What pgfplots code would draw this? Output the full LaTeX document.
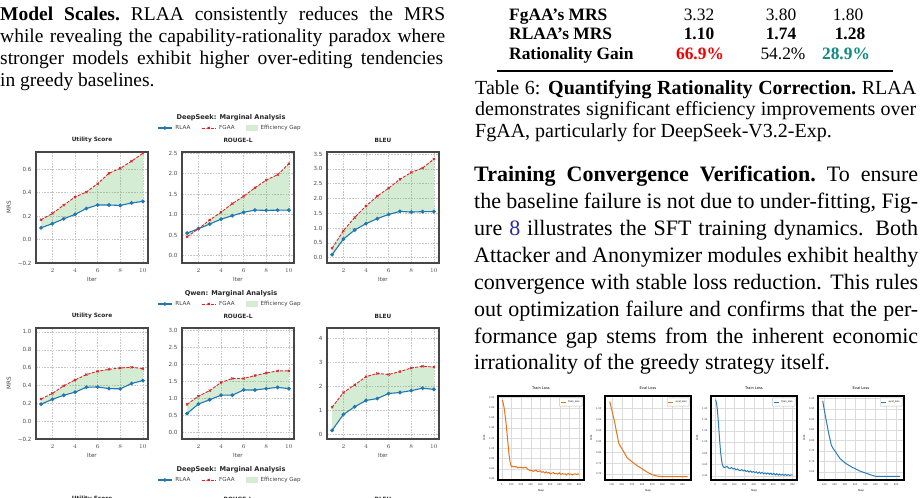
\documentclass[border=0pt]{standalone}
\usepackage{pgfplots}
\pgfplotsset{compat=1.18}
\usepackage{pgfplotstable}
\usepackage{fontspec}
\setmainfont{Liberation Serif}
\newfontfamily\djv{DejaVu Sans}

\definecolor{tabblue}{HTML}{1F77B4}
\definecolor{tabred}{HTML}{D62728}
\definecolor{tabgreen}{HTML}{2CA02C}
\definecolor{lossorange}{HTML}{E8731C}
\definecolor{lossblue}{HTML}{2B7BBA}
\definecolor{gainred}{HTML}{F20000}
\definecolor{gainteal}{HTML}{0E8A80}
\definecolor{linkblue}{HTML}{2A2AA0}

\newcommand{\tickfont}{\djv\fontsize{5.6bp}{6bp}\selectfont}
\newcommand{\tinyfont}{\djv\fontsize{2.4bp}{2.6bp}\selectfont}

% Marginal MRS per iteration: Utility (u), ROUGE-L (r), BLEU (b)
\pgfplotstableread{
iter uRL   uFG   rRL   rFG   bRL   bFG
1    0.100 0.168 0.550 0.460 0.100 0.320
2    0.135 0.222 0.656 0.656 0.630 0.910
3    0.176 0.293 0.770 0.870 0.935 1.360
4    0.214 0.362 0.890 1.060 1.150 1.745
5    0.264 0.404 0.975 1.270 1.320 2.080
6    0.294 0.475 1.057 1.450 1.460 2.350
7    0.294 0.564 1.112 1.656 1.565 2.650
8    0.290 0.606 1.105 1.844 1.540 2.880
9    0.311 0.667 1.110 1.975 1.555 3.030
10   0.325 0.735 1.110 2.246 1.555 3.330
}\dsdata

\pgfplotstableread{
iter uRL   uFG   rRL   rFG   bRL   bFG
1    0.190 0.248 0.548 0.817 0.180 1.140
2    0.245 0.311 0.827 1.058 0.840 1.750
3    0.290 0.396 0.952 1.221 1.160 2.070
4    0.325 0.461 1.087 1.460 1.420 2.410
5    0.380 0.522 1.087 1.577 1.500 2.540
6    0.383 0.559 1.240 1.577 1.710 2.500
7    0.365 0.581 1.240 1.663 1.750 2.620
8    0.362 0.596 1.280 1.740 1.830 2.770
9    0.422 0.604 1.317 1.800 1.930 2.840
10   0.455 0.589 1.280 1.800 1.880 2.810
}\qwdata

% SFT loss curves
\pgfplotstableread{
step loss
5 1.95
15 1.90
25 1.80
35 1.66
45 1.50
55 1.30
65 1.10
75 0.90
85 0.75
95 0.67
105 0.64
115 0.65
125 0.64
135 0.645
145 0.635
155 0.64
165 0.62
175 0.63
190 0.625
205 0.63
220 0.615
235 0.625
250 0.63
265 0.60
280 0.58
295 0.565
310 0.57
325 0.55
340 0.56
355 0.575
370 0.545
385 0.55
400 0.56
415 0.53
430 0.545
445 0.52
460 0.54
475 0.515
490 0.53
505 0.50
520 0.515
535 0.525
550 0.50
565 0.51
580 0.495
595 0.52
610 0.49
625 0.505
640 0.495
655 0.50
670 0.48
685 0.505
700 0.49
715 0.50
730 0.48
745 0.495
760 0.50
775 0.485
790 0.50
800 0.495
}\trainA

\pgfplotstableread{
step loss
80 1.033
125 0.945
170 0.839
210 0.809
250 0.776
300 0.756
350 0.739
400 0.724
450 0.709
500 0.697
550 0.691
600 0.688
650 0.688
700 0.688
750 0.688
800 0.688
850 0.688
}\evalA

\pgfplotstableread{
step loss
5 1.76
15 1.70
25 1.55
35 1.33
45 1.08
55 0.86
65 0.70
75 0.60
85 0.56
95 0.545
110 0.555
125 0.565
140 0.535
155 0.53
170 0.545
185 0.52
200 0.53
215 0.505
230 0.52
245 0.50
260 0.49
275 0.51
290 0.485
305 0.50
320 0.475
335 0.49
350 0.465
365 0.485
380 0.46
395 0.475
410 0.455
425 0.47
440 0.445
455 0.465
470 0.44
485 0.46
500 0.435
515 0.45
530 0.43
545 0.45
560 0.425
575 0.445
590 0.42
605 0.44
620 0.415
635 0.435
650 0.41
665 0.43
680 0.41
695 0.425
710 0.405
725 0.425
740 0.405
755 0.42
770 0.405
785 0.415
800 0.415
}\trainB

\pgfplotstableread{
step loss
83 0.989
103 0.933
123 0.881
145 0.826
167 0.778
187 0.760
207 0.747
250 0.715
307 0.691
373 0.672
440 0.656
507 0.644
573 0.633
607 0.629
700 0.629
840 0.629
}\evalB

\pgfplotsset{
  mrs/.style={
    scale only axis, width=112bp, height=111bp, anchor=north west,
    xmin=0.55, xmax=10.45, xtick={2,4,6,8,10},
    grid=major,
    major grid style={draw=black!22, dash pattern=on 1.6bp off 1.2bp, line width=0.45bp},
    axis background/.style={draw=black!72, line width=1.1bp},
    axis line style={draw=black!72, line width=1.1bp},
    major tick length=0pt, minor tick length=0pt,
    tick label style={font=\tickfont, text=black!70},
    xticklabel style={yshift=-2bp},
    yticklabel style={xshift=-1bp},
    title style={font=\djv\bfseries\fontsize{5.8bp}{6bp}\selectfont, text=black!85},
    xlabel={Iter},
    label style={font=\tickfont, text=black!75},
    xlabel style={yshift=2bp},
    legend image code/.code={\draw[mark repeat=2,mark phase=2,##1] plot coordinates {(0bp,0bp)(7bp,0bp)(14bp,0bp)};},
  },
  rl/.style={tabblue, line width=1.1bp, mark=*, mark size=1.3bp, mark options={solid}},
  fg/.style={tabred, line width=0.9bp, dash pattern=on 3bp off 1.4bp, mark=x, mark size=1.5bp, mark options={solid, line width=0.8bp}},
  gap/.style={fill=tabgreen, fill opacity=0.2, draw=none, forget plot,
    legend image code/.code={\fill[##1] (0bp,-2.6bp) rectangle (12bp,2.6bp);}},
  rowlegend/.style={legend style={at={(0.5,1)}, anchor=center, xshift=-8bp, yshift=24bp,
    draw=none, fill=none, inner sep=0pt, font=\tickfont, text=black!75,
    legend columns=3, /tikz/every even column/.append style={column sep=9bp},
    /tikz/every odd column/.append style={column sep=1bp}}},
  loss/.style={
    scale only axis, width=86bp, height=84bp, anchor=north west,
    grid=major, major grid style={draw=black!14, line width=0.35bp},
    axis background/.style={draw=black, line width=1.1bp},
    axis line style={draw=black, line width=1.1bp},
    major tick length=0pt, minor tick length=0pt,
    tick label style={font=\tinyfont, text=black!80, /pgf/number format/assume math mode=true},
    yticklabel style={/pgf/number format/fixed, /pgf/number format/fixed zerofill, /pgf/number format/precision=2},
    xticklabel style={/pgf/number format/set thousands separator={}},
    title style={font=\djv\fontsize{3.6bp}{4bp}\selectfont, inner sep=0.6bp},
    xlabel={Step}, ylabel={Loss},
    label style={font=\djv\fontsize{2.6bp}{3bp}\selectfont},
    xlabel style={yshift=2.5bp}, ylabel style={yshift=-2.5bp},
    legend style={at={(0.98,0.98)}, anchor=north east, font=\tinyfont, inner sep=0.5bp,
      draw=black!25, rounded corners=0.4bp, row sep=0pt},
    legend image code/.code={\draw[##1] (0bp,0bp) -- (5bp,0bp);},
  },
}

\begin{document}
\begin{tikzpicture}
\fill[white] (0bp,0bp) rectangle (923bp,-498bp);

% ---------- left column text ----------
\begin{scope}[every node/.style={anchor=base west, inner sep=0pt, font=\fontsize{19.5bp}{22bp}\selectfont}]
\node at (0bp,-20bp) {\makebox[445bp][s]{\textbf{Model Scales.}\ RLAA consistently reduces the MRS}};
\node at (0bp,-42bp) {\makebox[445bp][s]{while revealing the capability-rationality paradox where}};
\node at (0bp,-64bp) {\makebox[443bp][s]{stronger models exhibit higher over-editing tendencies}};
\node at (0bp,-86bp) {in greedy baselines.};
\end{scope}

% ---------- table fragment ----------
\begin{scope}[every node/.style={inner sep=0pt, font=\fontsize{17.4bp}{20bp}\selectfont}]
\node[anchor=base west] at (509bp,-20bp) {\textbf{FgAA’s MRS}};
\node[anchor=base west] at (509bp,-39.5bp) {\textbf{RLAA’s MRS}};
\node[anchor=base west] at (509bp,-59.5bp) {\textbf{Rationality Gain}};
\node[anchor=base] at (699bp,-20bp) {3.32};
\node[anchor=base] at (781bp,-20bp) {3.80};
\node[anchor=base] at (848bp,-20bp) {1.80};
\node[anchor=base] at (699bp,-39.5bp) {\textbf{1.10}};
\node[anchor=base] at (781bp,-39.5bp) {\textbf{1.74}};
\node[anchor=base] at (850bp,-39.5bp) {\textbf{1.28}};
\node[anchor=base] at (700bp,-59.5bp) {\textcolor{gainred}{\textbf{66.9\%}}};
\node[anchor=base] at (783bp,-59.5bp) {54.2\%};
\node[anchor=base] at (846bp,-59.5bp) {\textcolor{gainteal}{\textbf{28.9\%}}};
\end{scope}
\draw[line width=1.3bp] (497bp,-71bp) -- (893bp,-71bp);

\begin{scope}[every node/.style={anchor=base west, inner sep=0pt, font=\fontsize{20bp}{22bp}\selectfont}]
\node at (475bp,-94bp) {\makebox[441bp][s]{Table 6: \textbf{Quantifying Rationality Correction.}\ RLAA}};
\node at (475bp,-115.5bp) {\makebox[441bp][s]{demonstrates significant efficiency improvements over}};
\node at (475bp,-137bp) {FgAA, particularly for DeepSeek-V3.2-Exp.};
\end{scope}

\begin{scope}[every node/.style={anchor=base west, inner sep=0pt, font=\fontsize{22bp}{27bp}\selectfont}]
\node at (474bp,-181.5bp) {\makebox[444bp][s]{\textbf{Training Convergence Verification.}\ To ensure}};
\node at (474bp,-208.5bp) {\makebox[444bp][s]{the baseline failure is not due to under-fitting, Fig-}};
\node at (474bp,-235.5bp) {\makebox[444bp][s]{ure \textcolor{linkblue}{8} illustrates the SFT training dynamics. Both}};
\node at (474bp,-262.5bp) {\makebox[444bp][s]{Attacker and Anonymizer modules exhibit healthy}};
\node at (474bp,-289.5bp) {\makebox[444bp][s]{convergence with stable loss reduction. This rules}};
\node at (474bp,-316.5bp) {\makebox[444bp][s]{out optimization failure and confirms that the per-}};
\node at (474bp,-343.5bp) {\makebox[444bp][s]{formance gap stems from the inherent economic}};
\node at (474bp,-369.5bp) {irrationality of the greedy strategy itself.};
\end{scope}

% ---------- marginal analysis panels ----------
\begin{scope}[every node/.style={font=\djv\bfseries\fontsize{6.6bp}{7bp}\selectfont, text=black!85}]
\node at (231bp,-118bp) {DeepSeek: Marginal Analysis};
\node at (231bp,-294bp) {Qwen: Marginal Analysis};
\node at (231bp,-470bp) {DeepSeek: Marginal Analysis};
\end{scope}

% row 1: DeepSeek (gap area: RLAA forward, FGAA backward)
\begin{axis}[mrs, at={(36bp,-152bp)}, title={Utility Score}, ylabel={MRS},
  ymin=-0.2, ymax=0.745, ytick={-0.2,0,0.2,0.4,0.6}, yticklabels={−0.2,0.0,0.2,0.4,0.6}]
\addplot[gap] coordinates {(1,0.100)(2,0.135)(3,0.176)(4,0.214)(5,0.264)(6,0.294)(7,0.294)(8,0.290)(9,0.311)(10,0.325)
  (10,0.735)(9,0.667)(8,0.606)(7,0.564)(6,0.475)(5,0.404)(4,0.362)(3,0.293)(2,0.222)(1,0.168)};
\addplot[rl] table[x=iter,y=uRL]{\dsdata};
\addplot[fg] table[x=iter,y=uFG]{\dsdata};
\end{axis}
\begin{axis}[mrs, rowlegend, at={(182bp,-152bp)}, title={ROUGE-L},
  ymin=-0.18, ymax=2.53, ytick={0,0.5,1,1.5,2,2.5}, yticklabels={0.0,0.5,1.0,1.5,2.0,2.5}]
\addplot[gap] coordinates {(1,0.550)(2,0.656)(3,0.770)(4,0.890)(5,0.975)(6,1.057)(7,1.112)(8,1.105)(9,1.110)(10,1.110)
  (10,2.246)(9,1.975)(8,1.844)(7,1.656)(6,1.450)(5,1.270)(4,1.060)(3,0.870)(2,0.656)(1,0.460)};
\addplot[rl] table[x=iter,y=rRL]{\dsdata};
\addplot[fg] table[x=iter,y=rFG]{\dsdata};
\addlegendimage{gap}
\legend{RLAA,FGAA,Efficiency Gap}
\end{axis}
\begin{axis}[mrs, at={(327bp,-152bp)}, title={BLEU},
  ymin=-0.18, ymax=3.57, ytick={0,0.5,1,1.5,2,2.5,3,3.5}, yticklabels={0.0,0.5,1.0,1.5,2.0,2.5,3.0,3.5}]
\addplot[gap] coordinates {(1,0.100)(2,0.630)(3,0.935)(4,1.150)(5,1.320)(6,1.460)(7,1.565)(8,1.540)(9,1.555)(10,1.555)
  (10,3.330)(9,3.030)(8,2.880)(7,2.650)(6,2.350)(5,2.080)(4,1.745)(3,1.360)(2,0.910)(1,0.320)};
\addplot[rl] table[x=iter,y=bRL]{\dsdata};
\addplot[fg] table[x=iter,y=bFG]{\dsdata};
\end{axis}

% row 2: Qwen
\begin{axis}[mrs, at={(36bp,-328bp)}, title={Utility Score}, ylabel={MRS},
  ymin=-0.2, ymax=1.044, ytick={-0.2,0,0.2,0.4,0.6,0.8,1}, yticklabels={−0.2,0.0,0.2,0.4,0.6,0.8,1.0}]
\addplot[gap] coordinates {(1,0.190)(2,0.245)(3,0.290)(4,0.325)(5,0.380)(6,0.383)(7,0.365)(8,0.362)(9,0.422)(10,0.455)
  (10,0.589)(9,0.604)(8,0.596)(7,0.581)(6,0.559)(5,0.522)(4,0.461)(3,0.396)(2,0.311)(1,0.248)};
\addplot[rl] table[x=iter,y=uRL]{\qwdata};
\addplot[fg] table[x=iter,y=uFG]{\qwdata};
\end{axis}
\begin{axis}[mrs, rowlegend, at={(182bp,-328bp)}, title={ROUGE-L},
  ymin=-0.2, ymax=3.06, ytick={0,0.5,1,1.5,2,2.5,3}, yticklabels={0.0,0.5,1.0,1.5,2.0,2.5,3.0}]
\addplot[gap] coordinates {(1,0.548)(2,0.827)(3,0.952)(4,1.087)(5,1.087)(6,1.240)(7,1.240)(8,1.280)(9,1.317)(10,1.280)
  (10,1.800)(9,1.800)(8,1.740)(7,1.663)(6,1.577)(5,1.577)(4,1.460)(3,1.221)(2,1.058)(1,0.817)};
\addplot[rl] table[x=iter,y=rRL]{\qwdata};
\addplot[fg] table[x=iter,y=rFG]{\qwdata};
\addlegendimage{gap}
\legend{RLAA,FGAA,Efficiency Gap}
\end{axis}
\begin{axis}[mrs, at={(327bp,-328bp)}, title={BLEU},
  ymin=-0.18, ymax=4.43, ytick={0,1,2,3,4}, yticklabels={0,1,2,3,4}]
\addplot[gap] coordinates {(1,0.180)(2,0.840)(3,1.160)(4,1.420)(5,1.500)(6,1.710)(7,1.750)(8,1.830)(9,1.930)(10,1.880)
  (10,2.810)(9,2.840)(8,2.770)(7,2.620)(6,2.500)(5,2.540)(4,2.410)(3,2.070)(2,1.750)(1,1.140)};
\addplot[rl] table[x=iter,y=bRL]{\qwdata};
\addplot[fg] table[x=iter,y=bFG]{\qwdata};
\end{axis}

% row 3: DeepSeek, legend and panel titles
\begin{axis}[mrs, rowlegend, at={(182bp,-504bp)}, height=1bp, hide axis, title={},
  xlabel={}, ymin=0, ymax=1]
\addlegendimage{rl}\addlegendimage{fg}\addlegendimage{gap}
\legend{RLAA,FGAA,Efficiency Gap}
\end{axis}
\begin{scope}
\clip (0bp,0bp) rectangle (923bp,-498bp);
\begin{scope}[every node/.style={font=\djv\bfseries\fontsize{5.8bp}{6bp}\selectfont, text=black!85}]
\node at (92bp,-499bp) {Utility Score};
\node at (238bp,-499bp) {ROUGE-L};
\node at (383bp,-499bp) {BLEU};
\end{scope}
\end{scope}

% ---------- SFT loss curves ----------
\begin{axis}[loss, at={(498bp,-396bp)}, title={Train Loss},
  xmin=-38, xmax=851, xtick={0,100,...,800},
  ymin=0.38, ymax=2.03, ytick={0.4,0.6,...,2.0}]
\addplot[lossorange, line width=1bp] table[x=step,y=loss]{\trainA};
\addlegendentry{train\_loss}
\end{axis}
\begin{axis}[loss, at={(605bp,-396bp)}, title={Eval Loss},
  xmin=33, xmax=883, xtick={100,200,...,800},
  ymin=0.673, ymax=1.058, ytick={0.70,0.75,...,1.0}]
\addplot[lossorange, line width=1bp] table[x=step,y=loss]{\evalA};
\addlegendentry{eval\_loss}
\end{axis}
\begin{axis}[loss, at={(711bp,-396bp)}, title={Train Loss},
  xmin=-42, xmax=845, xtick={0,100,...,800},
  ymin=0.323, ymax=1.824, ytick={0.4,0.6,...,1.6}]
\addplot[lossblue, line width=1bp] table[x=step,y=loss]{\trainB};
\addlegendentry{train\_loss}
\end{axis}
\begin{axis}[loss, at={(818bp,-396bp)}, title={Eval Loss},
  xmin=37, xmax=877, xtick={100,200,...,800},
  ymin=0.612, ymax=1.012, ytick={0.65,0.70,...,1.0}]
\addplot[lossblue, line width=1bp] table[x=step,y=loss]{\evalB};
\addlegendentry{eval\_loss}
\end{axis}

\pgfresetboundingbox
\path[use as bounding box] (0bp,0bp) rectangle (923bp,-498bp);
\end{tikzpicture}
\end{document}
